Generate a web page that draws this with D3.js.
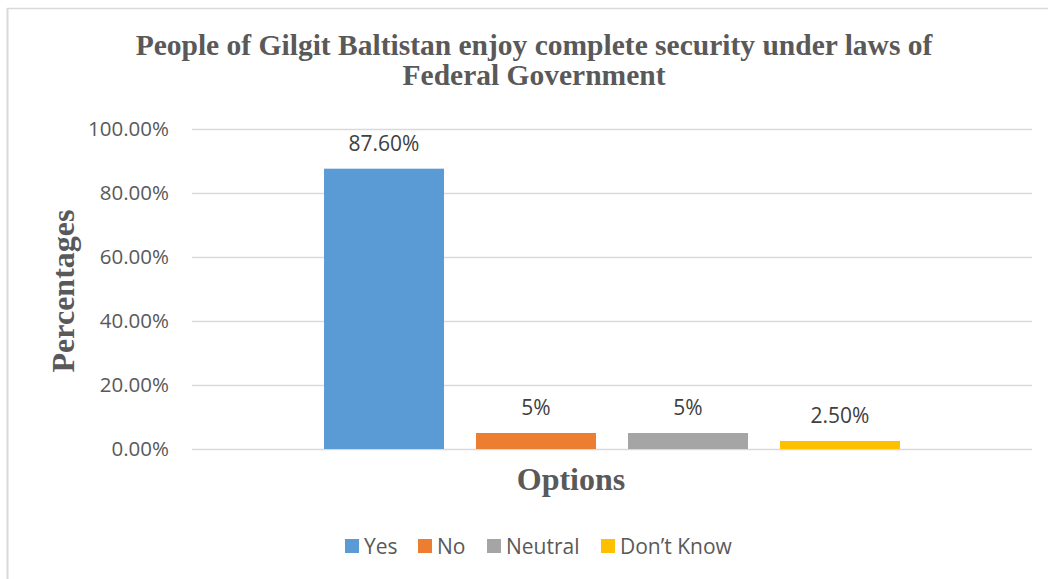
<!DOCTYPE html>
<html>
<head>
<meta charset="utf-8">
<script src="https://cdn.jsdelivr.net/npm/d3@7"></script>
<style>
  html, body { margin: 0; padding: 0; background: #fff; }
  svg { display: block; }
</style>
</head>
<body>
<svg id="chart" width="1048" height="579"></svg>
<script>
// Survey responses
const categories = ["Yes", "No", "Neutral", "Don\u2019t Know"];
const values = [87.6, 5, 5, 2.5];
const valueLabels = ["87.60%", "5%", "5%", "2.50%"];
const colors = ["#5B9BD5", "#ED7D31", "#A5A5A5", "#FFC000"];
const yTicks = [0, 20, 40, 60, 80, 100];

const titleLines = [
  "People of Gilgit Baltistan enjoy complete security under laws of",
  "Federal Government"
];

const svg = d3.select("#chart");
const W = 1048, H = 579;
const plot = { left: 192, right: 1032, top: 129, bottom: 449 };

const serif = "'Liberation Serif', 'Times New Roman', serif";
const sans = "'Open Sans', Lato, sans-serif";

// chart frame (left and top edges)
svg.append("line").attr("x1", 7.5).attr("x2", 7.5).attr("y1", 8).attr("y2", H)
  .attr("stroke", "#D9D9D9").attr("stroke-width", 2);
svg.append("line").attr("x1", 7).attr("x2", W).attr("y1", 8.5).attr("y2", 8.5)
  .attr("stroke", "#D9D9D9").attr("stroke-width", 1.5);

// title
svg.append("text")
  .attr("text-anchor", "middle")
  .attr("font-family", serif).attr("font-weight", "bold")
  .attr("font-size", 29.5).attr("fill", "#595959")
  .selectAll("tspan").data(titleLines).join("tspan")
  .attr("x", 534).attr("y", (d, i) => 55 + i * 30)
  .text(d => d);

const y = d3.scaleLinear().domain([0, 100]).range([plot.bottom, plot.top]);

// single category band, with the series split inside it
const x0 = d3.scaleBand().domain(["Options"]).range([plot.left, plot.right])
  .paddingInner(0).paddingOuter(0.2292);
const x1 = d3.scaleBand().domain(categories).range([0, x0.bandwidth()])
  .paddingInner(0.2105).paddingOuter(0);

// gridlines
svg.append("g")
  .selectAll("line").data(yTicks).join("line")
  .attr("x1", plot.left).attr("x2", plot.right)
  .attr("y1", d => Math.round(y(d)) + 0.5).attr("y2", d => Math.round(y(d)) + 0.5)
  .attr("stroke", "#D9D9D9").attr("stroke-width", 1.5);

// y axis labels
const yAxis = d3.axisLeft(y).tickValues(yTicks)
  .tickFormat(d => d.toFixed(2) + "%").tickSize(0).tickPadding(0);
const yg = svg.append("g").attr("transform", `translate(169,0)`).call(yAxis);
yg.select(".domain").remove();
yg.selectAll("text")
  .attr("font-family", sans).attr("font-size", 20.5).attr("fill", "#595959");

// bars
const gx = x0("Options");
svg.append("g")
  .selectAll("rect").data(values).join("rect")
  .attr("x", (d, i) => gx + x1(categories[i]))
  .attr("width", x1.bandwidth())
  .attr("y", d => y(d))
  .attr("height", d => y(0) - y(d))
  .attr("fill", (d, i) => colors[i]);

// value labels
svg.append("g")
  .selectAll("text").data(values).join("text")
  .attr("x", (d, i) => gx + x1(categories[i]) + x1.bandwidth() / 2)
  .attr("y", d => y(d) - 18)
  .attr("text-anchor", "middle")
  .attr("font-family", sans).attr("font-size", 21).attr("fill", "#404040")
  .text((d, i) => valueLabels[i]);

// axis titles
svg.append("text")
  .attr("transform", "translate(74,291) rotate(-90)")
  .attr("text-anchor", "middle")
  .attr("font-family", serif).attr("font-weight", "bold")
  .attr("font-size", 32).attr("fill", "#595959")
  .text("Percentages");

svg.append("text")
  .attr("x", 571).attr("y", 490)
  .attr("text-anchor", "middle")
  .attr("font-family", serif).attr("font-weight", "bold")
  .attr("font-size", 32).attr("fill", "#595959")
  .text("Options");

// legend
const legendX = [345, 418, 487, 601];
const lg = svg.append("g").selectAll("g").data(categories).join("g")
  .attr("transform", (d, i) => `translate(${legendX[i]},539)`);
lg.append("rect").attr("width", 14).attr("height", 14)
  .attr("fill", (d, i) => colors[i]);
lg.append("text").attr("x", 19).attr("y", 14.5)
  .attr("font-family", sans).attr("font-size", 21).attr("fill", "#595959")
  .text(d => d);
</script>
</body>
</html>
